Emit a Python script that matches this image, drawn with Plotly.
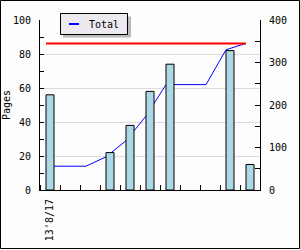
import plotly.graph_objects as go

categories = list(range(11))
date_label = ["13'8/17"]
pages = [56, None, None, 22, 38, 58, 74, None, None, 82, 15]
cumulative = [56, 56, 56, 78, 116, 174, 248, 248, 248, 330, 345]
total_value = 345
series_name = "Total"

FONT = "DejaVu Sans Mono"
W, H = 300, 250
L, R, T, B = 40, 40, 20, 60
pw, ph = W - L - R, H - T - B


def px(x):
    return (x - L) / pw


def py(y):
    return 1 - (y - T) / ph


line_x = [c - 0.2 for c in categories]

fig = go.Figure()
# cumulative line (right axis, drawn beneath bars)
fig.add_trace(go.Scatter(x=line_x, y=cumulative, mode="lines", name=series_name,
                         line=dict(color="#0000ff", width=1), xaxis="x", yaxis="y",
                         showlegend=False))
fig.add_trace(go.Scatter(x=[line_x[0], line_x[-1]], y=[total_value, total_value],
                         mode="lines", line=dict(color="#ff0000", width=2),
                         xaxis="x", yaxis="y", showlegend=False))
# bars (left axis)
fig.add_trace(go.Bar(x=categories, y=pages, width=0.4, xaxis="x", yaxis="y2",
                     marker=dict(color="#add8e6", line=dict(color="#000000", width=1)),
                     showlegend=False))

fig.update_layout(
    width=W, height=H,
    margin=dict(l=L, r=R, t=T, b=B, autoexpand=False),
    paper_bgcolor="#fcfdfc", plot_bgcolor="#fcfdfc",
    font=dict(family=FONT, size=10, color="black"),
    xaxis=dict(range=[-0.5, 10.5], tickvals=[0], ticktext=date_label, tickangle=-90,
               ticks="", showline=True, linecolor="black", linewidth=1,
               showgrid=False, zeroline=False, ticklabelstandoff=4, automargin=False,
               minor=dict(tick0=0.5, dtick=1, ticks="inside", ticklen=5,
                          tickcolor="black", showgrid=False)),
    yaxis=dict(side="right", range=[0, 400], dtick=100, ticks="inside", ticklen=5,
               tickcolor="black", showline=True, linecolor="black", linewidth=1,
               showgrid=False, zeroline=False, ticklabelstandoff=6, automargin=False,
               minor=dict(dtick=50, ticks="inside", ticklen=5, tickcolor="black",
                          showgrid=False)),
    yaxis2=dict(side="left", overlaying="y", range=[0, 100], dtick=20, ticks="inside",
                ticklen=4, tickcolor="black", showline=True, linecolor="black",
                linewidth=1, showgrid=True, gridcolor="#dddddd", gridwidth=1,
                zeroline=False, ticklabelstandoff=6, automargin=False,
                title=dict(text="Pages", standoff=0, font=dict(family=FONT, size=10)),
                minor=dict(dtick=10, ticks="inside", ticklen=4, tickcolor="black",
                           showgrid=False)),
    showlegend=False,
    shapes=[
        # legend shadow
        dict(type="rect", xref="paper", yref="paper", layer="above",
             x0=px(63), x1=px(131), y0=py(37.5), y1=py(16.5),
             fillcolor="#bbbbbb", line=dict(width=0)),
        # legend box
        dict(type="rect", xref="paper", yref="paper", layer="above",
             x0=px(60.5), x1=px(127.5), y0=py(34.5), y1=py(13.5),
             fillcolor="#eceaf0", line=dict(color="black", width=1)),
        # legend symbol
        dict(type="line", xref="paper", yref="paper", layer="above",
             x0=px(69), x1=px(79), y0=py(24), y1=py(24),
             line=dict(color="#0000ff", width=2)),
        # outer frame
        dict(type="rect", xref="paper", yref="paper", layer="above",
             x0=px(0.5), x1=px(299.5), y0=py(248.5), y1=py(0.5),
             line=dict(color="black", width=1), fillcolor="rgba(0,0,0,0)"),
    ],
    annotations=[
        dict(text=series_name, xref="paper", yref="paper", x=px(87), y=py(24),
             xanchor="left", yanchor="middle", showarrow=False,
             font=dict(family=FONT, size=10, color="black")),
    ],
)

fig.write_html("out.html")
